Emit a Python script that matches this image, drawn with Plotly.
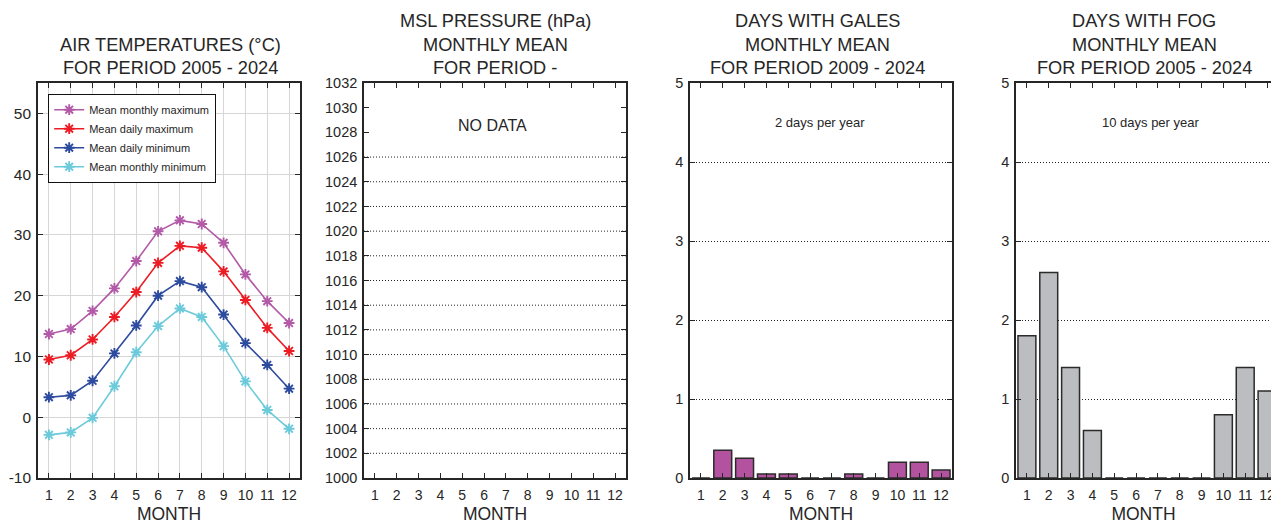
import plotly.graph_objects as go

W, H = 1271, 524

months = list(range(1, 13))
month_labels = [str(m) for m in months]

# Air temperatures (°C), 2005-2024
mean_monthly_max = [13.7, 14.5, 17.5, 21.2, 25.7, 30.6, 32.4, 31.8, 28.7, 23.5, 19.1, 15.5]
mean_daily_max = [9.5, 10.2, 12.8, 16.5, 20.6, 25.4, 28.2, 27.9, 24.0, 19.3, 14.7, 10.9]
mean_daily_min = [3.3, 3.6, 6.0, 10.5, 15.1, 20.0, 22.4, 21.4, 16.9, 12.2, 8.6, 4.7]
mean_monthly_min = [-2.9, -2.5, -0.1, 5.1, 10.7, 15.0, 17.9, 16.5, 11.7, 5.9, 1.2, -1.9]

temp_series = [
    ("Mean monthly maximum", mean_monthly_max, "#b259a7"),
    ("Mean daily maximum", mean_daily_max, "#ec1c24"),
    ("Mean daily minimum", mean_daily_min, "#2d4b9e"),
    ("Mean monthly minimum", mean_monthly_min, "#6ccadb"),
]

# MSL pressure: no data
pressure = []

# Days with gales (2009-2024), days with fog (2005-2024)
gales = [0, 0.35, 0.25, 0.05, 0.05, 0, 0, 0.05, 0, 0.2, 0.2, 0.1]
fog = [1.8, 2.6, 1.4, 0.6, 0, 0, 0, 0, 0, 0.8, 1.4, 1.1]

temp_ticks = [-10, 0, 10, 20, 30, 40, 50]
temp_tick_labels = ["-10", "0", "10", "20", "30", "40", "50"]
press_ticks = list(range(1000, 1033, 2))
press_grid = list(range(1002, 1027, 2))
days_ticks = [0, 1, 2, 3, 4, 5]

FONT = "Liberation Sans, Arial, Helvetica, sans-serif"
TXT = "#262626"
AX = "#262626"
DOTS = "1px,2px"

def px_x(a, b):
    return [a / W, b / W]

y_dom = [(H - 478) / H, (H - 83) / H]

fig = go.Figure()

# Panel 1: temperatures
for name, vals, col in temp_series:
    fig.add_trace(go.Scatter(
        x=months, y=vals, name=name, mode="lines+markers",
        line=dict(color=col, width=1.6),
        marker=dict(symbol="asterisk-open", size=9, color=col, line=dict(color=col, width=1.9)),
        xaxis="x", yaxis="y",
    ))

# Panel 2: pressure (empty)
fig.add_trace(go.Scatter(x=pressure, y=pressure, xaxis="x2", yaxis="y2", showlegend=False, mode="lines"))

# Panel 3: gales
fig.add_trace(go.Bar(x=months, y=gales, width=0.82, marker=dict(color="#b3529f", line=dict(color="#2b2b2b", width=1.5)),
                     xaxis="x3", yaxis="y3", showlegend=False))
# Panel 4: fog
fig.add_trace(go.Bar(x=months, y=fog, width=0.82, marker=dict(color="#bcbdc1", line=dict(color="#2b2b2b", width=1.5)),
                     xaxis="x4", yaxis="y4", showlegend=False))

common_x = dict(
    tickmode="array", tickvals=months, ticktext=month_labels,
    ticks="inside", ticklen=5, tickwidth=1.2, tickcolor=AX,
    showline=True, linecolor=AX, linewidth=1.6, mirror="ticks",
    tickfont=dict(family=FONT, size=14, color=TXT), ticklabelstandoff=3,
    title=dict(text="MONTH", font=dict(family=FONT, size=17.5, color=TXT), standoff=10),
    zeroline=False, fixedrange=True, automargin=False,
)
common_y = dict(
    ticks="inside", ticklen=5, tickwidth=1.2, tickcolor=AX,
    showline=True, linecolor=AX, linewidth=1.6, mirror="ticks",
    tickfont=dict(family=FONT, size=14.5, color=TXT),
    zeroline=False, fixedrange=True, ticklabelstandoff=2, automargin=False,
)

layout_axes = {}
layout_axes["xaxis"] = dict(common_x, domain=px_x(38, 300), range=[0.5, 12.5], anchor="y",
                            showgrid=True, gridcolor="#d6d6d6", gridwidth=1)
layout_axes["yaxis"] = dict(common_y, domain=y_dom, range=[-10, 55], anchor="x",
                            tickmode="array", tickvals=temp_ticks, ticktext=temp_tick_labels,
                            showgrid=True, gridcolor="#d6d6d6", gridwidth=1,
                            tickfont=dict(family=FONT, size=15.5, color=TXT))
layout_axes["xaxis2"] = dict(common_x, domain=px_x(364, 626), range=[0.5, 12.5], anchor="y2", showgrid=False)
layout_axes["yaxis2"] = dict(common_y, domain=y_dom, range=[1000, 1032], anchor="x2",
                             tickvals=press_ticks, showgrid=False)
layout_axes["xaxis3"] = dict(common_x, domain=px_x(690, 952), range=[0.5, 12.5], anchor="y3", showgrid=False)
layout_axes["yaxis3"] = dict(common_y, domain=y_dom, range=[0, 5], anchor="x3",
                             tickvals=days_ticks, showgrid=True, gridcolor="#222222", griddash=DOTS, gridwidth=1)
layout_axes["xaxis4"] = dict(common_x, domain=px_x(1016, 1271), range=[0.5, 0.5 + 255 / 21.83], anchor="y4",
                             showgrid=False, ticklabeloverflow="allow")
layout_axes["yaxis4"] = dict(common_y, domain=y_dom, range=[0, 5], anchor="x4", mirror=False,
                             tickvals=days_ticks, showgrid=True, gridcolor="#222222", griddash=DOTS, gridwidth=1)

shapes = [
    dict(type="line", xref="x2", yref="y2", x0=0.5, x1=12.5, y0=g, y1=g,
         line=dict(color="#222222", width=1, dash=DOTS), layer="below")
    for g in press_grid
]

def title_lines(cx, lines, tops):
    out = []
    for t, yc in zip(lines, tops):
        out.append(dict(text=t, x=cx / W, y=(H - yc) / H, xref="paper", yref="paper",
                        xanchor="center", yanchor="middle", showarrow=False,
                        font=dict(family=FONT, size=18.2, color=TXT)))
    return out

annotations = []
annotations += title_lines(170, ["AIR TEMPERATURES (°C)", "FOR PERIOD 2005 - 2024"], [45, 68])
annotations += title_lines(495, ["MSL PRESSURE (hPa)", "MONTHLY MEAN", "FOR PERIOD -"], [21, 45, 68])
annotations += title_lines(817, ["DAYS WITH GALES", "MONTHLY MEAN", "FOR PERIOD 2009 - 2024"], [21, 45, 68])
annotations += title_lines(1144, ["DAYS WITH FOG", "MONTHLY MEAN", "FOR PERIOD 2005 - 2024"], [21, 45, 68])
annotations.append(dict(text="NO DATA", x=492.5 / W, y=(H - 125) / H, xref="paper", yref="paper",
                        xanchor="center", yanchor="middle", showarrow=False,
                        font=dict(family=FONT, size=16, color=TXT)))
annotations.append(dict(text="2 days per year", x=820 / W, y=(H - 122) / H, xref="paper", yref="paper",
                        xanchor="center", yanchor="middle", showarrow=False,
                        font=dict(family=FONT, size=13, color=TXT)))
annotations.append(dict(text="10 days per year", x=1151 / W, y=(H - 122) / H, xref="paper", yref="paper",
                        xanchor="center", yanchor="middle", showarrow=False,
                        font=dict(family=FONT, size=13, color=TXT)))

fig.update_layout(
    template="none",
    width=W, height=H,
    margin=dict(l=0, r=0, t=0, b=0, autoexpand=False),
    paper_bgcolor="white", plot_bgcolor="white",
    font=dict(family=FONT, color=TXT),
    showlegend=True,
    legend=dict(x=48 / W, y=(H - 94) / H, xanchor="left", yanchor="top",
                bordercolor="#111111", borderwidth=1.2, bgcolor="white",
                font=dict(family=FONT, size=11, color=TXT),
                itemwidth=30, tracegroupgap=0),
    shapes=shapes,
    annotations=annotations,
    **layout_axes,
)

fig.write_html("out.html", config={"displayModeBar": False},
               post_script="document.body.style.margin='0';document.body.style.overflow='hidden';")
